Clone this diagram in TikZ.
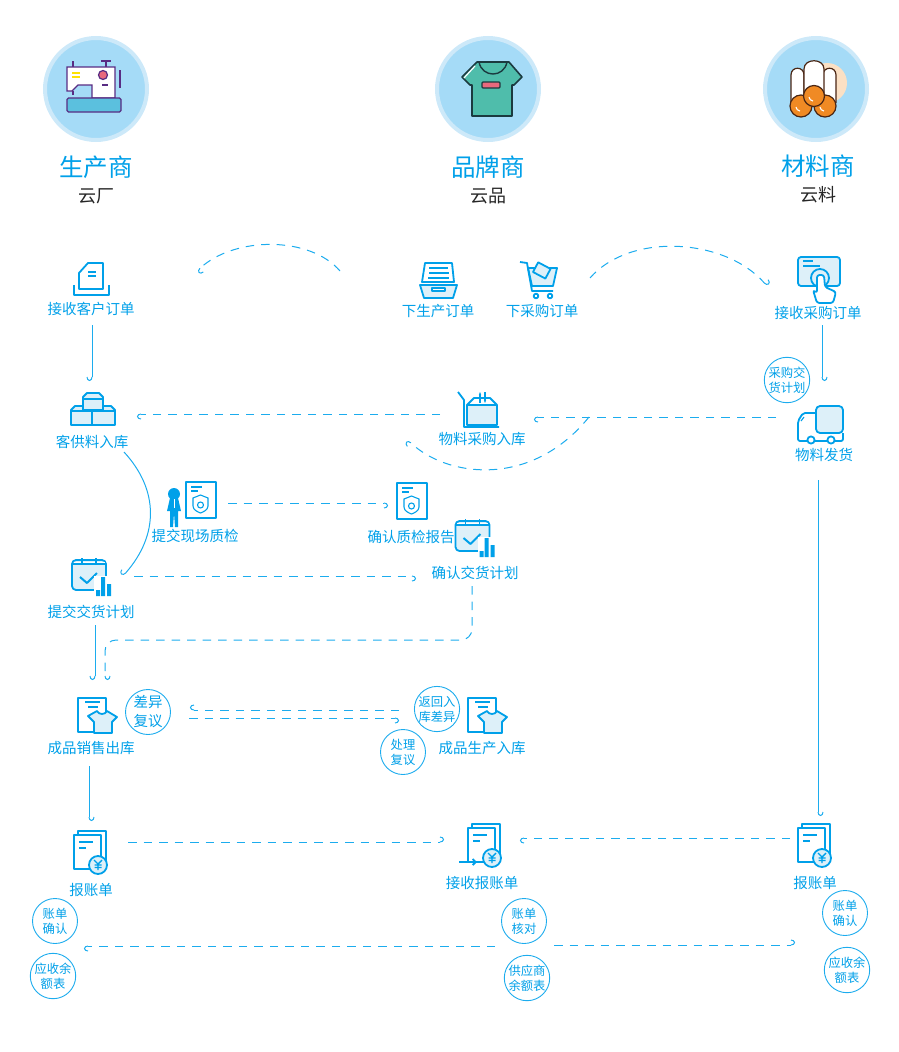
\documentclass[tikz,border=0pt]{standalone}
\usepackage{fontspec}
\setmainfont{Noto Sans CJK SC}
\usetikzlibrary{arrows.meta,positioning}
\definecolor{yunblue}{RGB}{0,160,233}
\definecolor{yunline}{RGB}{28,172,238}
\definecolor{yunpale}{RGB}{221,240,249}
\definecolor{discin}{RGB}{165,219,247}
\definecolor{discout}{RGB}{205,233,249}
\definecolor{stitch}{RGB}{88,44,131}
\definecolor{machteal}{RGB}{91,192,222}
\definecolor{teeteal}{RGB}{79,189,171}
\definecolor{teeink}{RGB}{27,58,63}
\definecolor{teepink}{RGB}{232,105,125}
\definecolor{rollink}{RGB}{74,38,20}
\definecolor{rollorange}{RGB}{240,138,36}
\definecolor{rollpeach}{RGB}{251,224,196}

\begin{document}
\begin{tikzpicture}[
    x=1pt, y=1pt,
    hubdisc/.style={circle, draw=discout, fill=discin, line width=4pt, minimum size=102pt,
                    inner sep=0pt, outer sep=0pt},
    hubtitle/.style={font=\fontsize{24.5}{28}\selectfont, text=yunblue, minimum height=30pt,
                     inner sep=0pt, outer sep=0pt},
    hubsub/.style={font=\fontsize{18}{20}\selectfont, text=black!85, minimum height=22pt,
                   inner sep=0pt, outer sep=0pt},
    iconspot/.style={minimum width=40pt, minimum height=40pt, inner sep=0pt, outer sep=0pt},
    steptext/.style={font=\fontsize{14.5}{16}\selectfont, text=yunblue, minimum height=18pt,
                     inner sep=0pt, outer sep=0pt},
    notering/.style={circle, draw=yunline, fill=white, line width=0.9pt, minimum size=45pt,
                     inner sep=0pt, outer sep=0pt, align=center, text=yunblue,
                     font=\fontsize{12.3}{15}\selectfont},
    notebig/.style={notering, font=\fontsize{14.5}{19}\selectfont},
    flowline/.style={draw=yunline, line width=1pt},
    flowdash/.style={draw=yunline, line width=1pt, dash pattern=on 8.5pt off 7pt},
    hookl/.style={-{Hooks[left,length=4pt,width=11pt]}},
    hookr/.style={-{Hooks[right,length=4pt,width=11pt]}},
    iconline/.style={draw=yunblue, line width=1.8pt, line join=round},
    iconthin/.style={draw=yunblue, line width=1.1pt},
    iconbox/.style={iconline, fill=yunpale},
    pics/sewing/.style={code={
        \draw[stitch, line width=1.2pt, fill=white] (-29,22) -- (19,22) -- (19,-9) -- (-4,-9) -- (-4,4)
            -- (-18,4) -- (-24,-2) -- (-29,-2) -- cycle;
        \draw[stitch, line width=1.2pt, fill=machteal, rounded corners=1.5pt] (-29,-9) rectangle (25,-23);
        \draw[stitch, line width=1.2pt] (-23,28) -- (-23,22) (10,28) -- (10,22) (5,28) -- (15,28)
            (24,19) -- (24,1) (6,4) -- (12,4) (-23,-2) -- (-23,-6);
        \draw[stitch, line width=1.2pt, fill=teepink] (7,14) circle (4.5);
        \draw[yellow!85!orange, line width=1.6pt] (-24,16) -- (-16,16) (-24,12) -- (-16,12);
    }},
    pics/teeshirt/.style={code={
        \draw[teeink, line width=1.6pt, line join=round, fill=teeteal] (-28,12) -- (-13,27)
            -- (19,27) -- (32,12) -- (24,4) -- (22,4) -- (22,-27) -- (-18,-27)
            -- (-18,4) -- (-20,4) -- cycle;
        \draw[teeink, line width=1.4pt] (-11,27) .. controls (-8,11) and (14,11) .. (17,27);
        \draw[white, line width=1.2pt] (-26,11) -- (-15,23);
        \draw[teeink, line width=1.2pt, fill=teepink, rounded corners=1pt] (-8,7) rectangle (10,1);
    }},
    pics/rolls/.style={code={
        \fill[rollpeach] (11,6) circle (20);
        \foreach \lx in {-25,7} {
            \draw[rollink, line width=1.2pt, fill=white] (\lx,-14) -- (\lx,14)
                .. controls (\lx,23) and (\lx+13,23) .. (\lx+13,14) -- (\lx+13,-14);
        }
        \draw[rollink, line width=1.2pt, fill=white] (-12,-8) -- (-12,20)
            .. controls (-12,31) and (8,31) .. (8,20) -- (8,-8);
        \foreach \cx/\cy/\cr in {-15/-17/11,9/-17/11,-2/-7/10.5} {
            \draw[rollink, line width=1.2pt, fill=rollorange] (\cx,\cy) circle (\cr);
            \draw[white, line width=1.1pt] (\cx-5,\cy-1) .. controls (\cx-4,\cy-4) .. (\cx-1,\cy-5);
        }
    }},
    pics/inboxdoc/.style={code={
        \draw[iconline] (-12,-6) -- (-12,6) -- (-3,16) -- (12,16) -- (12,-10) -- (-12,-10) -- cycle;
        \draw[iconline] (-17,-6) -- (-17,-16) -- (18,-16) -- (18,-6);
        \draw[iconthin] (-3,7) -- (5,7) (-3,3) -- (5,3);
    }},
    pics/traydoc/.style={code={
        \draw[iconline] (-13,18) -- (14,18) -- (16,-1) -- (-16,-1) -- cycle;
        \draw[iconthin, line width=1.4pt] (-9,13) -- (10,13) (-9,8) -- (11,8) (-10,3) -- (11,3);
        \draw[iconbox] (-18,-4) -- (19,-4) -- (15,-17) -- (-14,-17) -- cycle;
        \draw[iconline, fill=white] (-6,-7) rectangle (7,-10);
    }},
    pics/cart/.style={code={
        \draw[iconbox] (-14,13) -- (15,13) -- (11,-5) -- (-10,-5) -- cycle;
        \draw[iconline, fill=yunpale, rotate around={-28:(0,11)}] (-7,5) rectangle (7,16);
        \draw[iconline] (-22,19) -- (-15,18) -- (-10,-10) -- (11,-10);
        \draw[iconline, fill=white] (-6,-15) circle (2.3) (8,-15) circle (2.3);
    }},
    pics/tapcard/.style={code={
        \draw[iconbox, rounded corners=3pt] (-20,26) rectangle (22,-3);
        \draw[iconline] (-15,22) -- (-5,22) (-15,17) -- (2,17);
        \draw[iconline] (2,5) circle (9);
        \draw[iconline, fill=white, rounded corners=2.5pt] (-1,8) -- (-1,-10) -- (-5,-7) -- (-1,-20) -- (15,-20)
            -- (18,-9) -- (7,-4) -- (6,8) -- cycle;
    }},
    pics/blocks/.style={code={
        \draw[iconbox] (-21,-13) -- (-21,2) -- (-17,6) -- (-4,6) -- (0,2) -- (0,-13) -- cycle;
        \draw[iconbox] (0,-13) -- (0,2) -- (4,6) -- (19,6) -- (23,2) -- (23,-13) -- cycle;
        \draw[iconthin] (-21,1) -- (23,1);
        \draw[iconbox] (-9,2) -- (-9,15) -- (-5,19) -- (7,19) -- (11,15) -- (11,2) -- cycle;
        \draw[iconthin] (-9,13) -- (11,13);
    }},
    pics/openbox/.style={code={
        \draw[iconline] (-24,17) -- (-18,9) -- (-18,-18) -- (17,-18);
        \draw[iconbox] (-15,4) -- (15,4) -- (15,-16) -- (-15,-16) -- cycle;
        \draw[iconline] (-15,4) -- (-8,11) -- (8,11) -- (15,4);
        \draw[iconline, line width=1.3pt, -{Stealth[length=3pt]}] (-2,6) -- (-2,17);
        \draw[iconline, line width=1.3pt, -{Stealth[length=3pt]}] (3,17) -- (3,6);
    }},
    pics/lorry/.style={code={
        \draw[iconline, rounded corners=2pt] (-8,12) -- (-21,12) -- (-26,4) -- (-26,-16) -- (19,-16) -- (19,-8);
        \draw[iconbox, rounded corners=4pt] (-8,19) rectangle (19,-8);
        \draw[iconline, fill=white] (-13,-15) circle (3.6) (7,-15) circle (3.6);
        \draw[iconthin] (-20,8) -- (-23,4);
    }},
    pics/shielddoc/.style={code={
        \draw[iconline] (-15,18) rectangle (15,-18);
        \draw[iconthin] (-10,13) -- (1,13) (-10,9) -- (-3,9);
        \draw[iconthin] (-0.5,5) -- (7,2) -- (7,-6) .. controls (7,-10) and (2,-12) .. (-0.5,-13)
            .. controls (-3,-12) and (-8,-10) .. (-8,-6) -- (-8,2) -- cycle;
        \draw[iconthin] (-0.5,-5) circle (3);
    }},
    pics/worker/.style={code={
        \fill[yunblue] (-21,12) circle (6);
        \fill[yunblue] (-25,8) -- (-17,8) -- (-14,-5) -- (-17,-5) -- (-17,-21) -- (-20,-21) -- (-21,-7)
            -- (-22,-21) -- (-25,-21) -- (-25,-5) -- (-28,-5) -- cycle;
        \draw[white, line width=0.7pt] (-21,7) -- (-21,-2);
    }},
    pics/planner/.style={code={
        \draw[iconbox, rounded corners=4pt] (-17,15) rectangle (17,-15);
        \fill[white] (-15.5,13.5) rectangle (15.5,11);
        \draw[iconline] (-17,11) -- (17,11);
        \draw[iconline] (-7,17) -- (-7,12) (7,17) -- (7,12);
        \draw[iconline, line width=2pt] (-9,-2) -- (-2,-8) -- (8,2);
        \fill[white] (5,-22) rectangle (24,-1);
        \fill[yunblue] (7,-15) rectangle (11,-21) (12,-2) rectangle (16,-21) (18,-9) rectangle (22,-21);
    }},
    pics/shirtdoc/.style={code={
        \draw[iconline] (-13,20) rectangle (15,-14);
        \draw[iconthin, line width=1.4pt] (-6,16) -- (9,16) (-3,11) -- (7,11);
        \draw[iconbox] (-3,2) -- (6,7) .. controls (8,3) and (14,3) .. (16,7) -- (26,1) -- (21,-4) -- (21,-15)
            -- (3,-15) -- (3,-4) -- cycle;
    }},
    pics/billdoc/.style={code={
        \draw[iconline] (-13,25) -- (-13,29) -- (15,29) -- (15,-2);
        \draw[iconline, fill=white] (-17,25) rectangle (10,-9);
        \draw[iconline] (-12,18) -- (2,18) (-12,12) -- (-5,12);
        \draw[iconline, fill=yunpale] (7,-5) circle (9);
        \draw[iconline, line width=1.4pt] (3,0) -- (7,-4) -- (11,0) (7,-4) -- (7,-10) (3.5,-5) -- (10.5,-5) (3.5,-7.5) -- (10.5,-7.5);
    }}
]
\useasboundingbox (0,0) rectangle (899,-1052);
% three parties along the top
\node[hubdisc] (maker) at (96,-89) {};
\node[hubdisc] (brand) at (488,-89) {};
\node[hubdisc] (supplier) at (816,-89) {};
\pic at (maker) {sewing};
\pic at ([xshift=2pt]brand) {teeshirt};
\pic at (supplier) {rolls};
\node[hubtitle, below=12pt of maker] (makername) {生产商};
\node[hubtitle, below=12pt of brand] (brandname) {品牌商};
\node[hubtitle, below=11pt of supplier, xshift=2pt] (suppliername) {材料商};
\node[hubsub, below=3pt of makername] (makersub) {云厂};
\node[hubsub, below=3pt of brandname] (brandsub) {云品};
\node[hubsub, below=3pt of suppliername] (suppliersub) {云料};
% step icons
\node[iconspot] (khdd) at (91,-279) {};
\node[iconspot] (xsc) at (438,-281) {};
\node[iconspot] (xcg) at (542,-281) {};
\node[iconspot] (jscg) at (818,-283) {};
\node[iconspot] (kgl) at (92,-412) {};
\node[iconspot] (wlcg) at (482,-409) {};
\node[iconspot] (wlfh) at (824,-425) {};
\node[iconspot] (tjzj) at (195,-506) {};
\node[iconspot] (qrzj) at (411,-507) {};
\node[iconspot] (qrjh) at (475,-543) {};
\node[iconspot] (tjjh) at (91,-582) {};
\node[iconspot] (cpxs) at (91,-718) {};
\node[iconspot] (cpsc) at (482,-718) {};
\node[iconspot] (bzl) at (91,-860) {};
\node[iconspot] (jsbz) at (482,-853) {};
\node[iconspot] (bzr) at (815,-853) {};
\pic at (khdd) {inboxdoc};
\pic at (xsc) {traydoc};
\pic at (xcg) {cart};
\pic at (jscg) {tapcard};
\pic at (kgl) {blocks};
\pic at (wlcg) {openbox};
\pic at (wlfh) {lorry};
\pic at ([shift={(6,6)}]tjzj) {shielddoc};
\pic at (tjzj) {worker};
\pic at ([shift={(1,6)}]qrzj) {shielddoc};
\pic at ([shift={(-2.5,7)}]qrjh) {planner};
\pic at ([shift={(-2,7)}]tjjh) {planner};
\pic at (cpxs) {shirtdoc};
\pic at ([xshift=-1pt]cpsc) {shirtdoc};
\pic at (bzl) {billdoc};
\pic at ([xshift=3pt]jsbz) {billdoc};
\pic at (bzr) {billdoc};
\draw[iconline, -{Straight Barb[length=3pt]}] ([shift={(-23,-9)}]jsbz.center) -- ++(18,0);
% step labels
\node[steptext, below=1pt of khdd] (khddtxt) {接收客户订单};
\node[steptext, below=1pt of xsc] (xsctxt) {下生产订单};
\node[steptext, below=1pt of xcg] (xcgtxt) {下采购订单};
\node[steptext, below=1pt of jscg] (jscgtxt) {接收采购订单};
\node[steptext, below=1pt of kgl] (kgltxt) {客供料入库};
\node[steptext, below=1pt of wlcg] (wlcgtxt) {物料采购入库};
\node[steptext, below=1pt of wlfh] (wlfhtxt) {物料发货};
\node[steptext, below=1pt of tjzj] (tjzjtxt) {提交现场质检};
\node[steptext, below=1pt of qrzj] (qrzjtxt) {确认质检报告};
\node[steptext, below=1pt of qrjh] (qrjhtxt) {确认交货计划};
\node[steptext, below=1pt of tjjh] (tjjhtxt) {提交交货计划};
\node[steptext, below=1pt of cpxs] (cpxstxt) {成品销售出库};
\node[steptext, below=1pt of cpsc] (cpsctxt) {成品生产入库};
\node[steptext, below=1pt of bzl] (bzltxt) {报账单};
\node[steptext, below=1pt of jsbz] (jsbztxt) {接收报账单};
\node[steptext, below=1pt of bzr] (bzrtxt) {报账单};
% round notes
\node[notering] (cgjh) at (787,-380) {采购交\\货计划};
\node[notebig] (cyfy) at (148,-712) {差异\\复议};
\node[notering] (fhcy) at (437,-709) {返回入\\库差异};
\node[notering] (clfy) at (403,-752) {处理\\复议};
\node[notering] (zdql) at (55,-921) {账单\\确认};
\node[notering] (ysl) at (53,-976) {应收余\\额表};
\node[notering] (zdhd) at (524,-921) {账单\\核对};
\node[notering] (gysye) at (527,-978) {供应商\\余额表};
\node[notering] (zdqr) at (845,-913) {账单\\确认};
\node[notering] (ysr) at (847,-970) {应收余\\额表};
% connectors
\draw[flowdash, hookl] ([shift={(-78,10)}]xsc.west) .. controls +(-30,35) and +(38,35) .. ([shift={(86,8)}]khdd.east);
\draw[flowdash, hookl] ([shift={(28,3)}]xcg.east) .. controls +(40,46) and +(-42,48) .. ([shift={(-31,-3)}]jscg.west);
\draw[flowline, hookr] ([shift={(1,-7)}]khddtxt.south) -- ([shift={(0,11)}]kgl.north);
\draw[flowline, hookl] ([shift={(4,-3)}]jscgtxt.south) -- ([shift={(-2,24)}]wlfh.north);
\draw[flowdash, hookl] ([shift={(-22,-5)}]wlcg.west) -- ([shift={(25,-2)}]kgl.east);
\draw[flowdash, hookl] ([shift={(-28,8)}]wlfh.west) -- ([shift={(32,-8)}]wlcg.east);
\draw[flowdash, hookl] ([shift={(-215,8)}]wlfh.west) .. controls +(-59,-73) and +(37,-36) .. ([shift={(-54,-31)}]wlcg.west);
\draw[flowline, hookr] ([shift={(32,-1)}]kgltxt.south) .. controls +(35,-38) and +(36,41) .. ([shift={(12,6)}]tjjh.east);
\draw[flowdash, hookr] ([shift={(13,3)}]tjzj.east) -- ([shift={(-3,4)}]qrzj.west);
\draw[flowdash, hookr] ([shift={(23,6)}]tjjh.east) -- ([shift={(-39,-33)}]qrjh.west);
\draw[flowdash, hookl, rounded corners=11pt] ([shift={(-3,-4)}]qrjhtxt.south) -- ++(0,-54) -| ([shift={(14,18)}]cpxs.north);
\draw[flowline, hookr] ([shift={(4,-4)}]tjjhtxt.south) -- ([shift={(4,18)}]cpxs.north);
\draw[flowdash, hookr] ([shift={(-63,8)}]cpsc.west) -- ([shift={(79,8)}]cpxs.east);
\draw[flowdash, hookr] ([shift={(78,0)}]cpxs.east) -- ([shift={(-63,0)}]cpsc.west);
\draw[flowline, hookl] ([shift={(-2,-9)}]cpxstxt.south) -- ([shift={(-2,19)}]bzl.north);
\draw[flowdash, hookl] ([shift={(17,18)}]bzl.east) -- ([shift={(-18,11)}]jsbz.west);
\draw[flowdash, hookl] ([shift={(-5,15)}]bzr.west) -- ([shift={(18,15)}]jsbz.east);
\draw[flowline, hookl] ([shift={(-6,-16)}]wlfhtxt.south) -- ([shift={(3,17)}]bzr.north);
\draw[flowdash, hookl] ([shift={(-29,-2.5)}]zdhd.south) -- ([shift={(29,-2.5)}]zdql.south);
\draw[flowdash, hookl] ([shift={(30,-1.5)}]zdhd.south) -- ([shift={(-50,-9.5)}]zdqr.south);
\end{tikzpicture}
\end{document}
